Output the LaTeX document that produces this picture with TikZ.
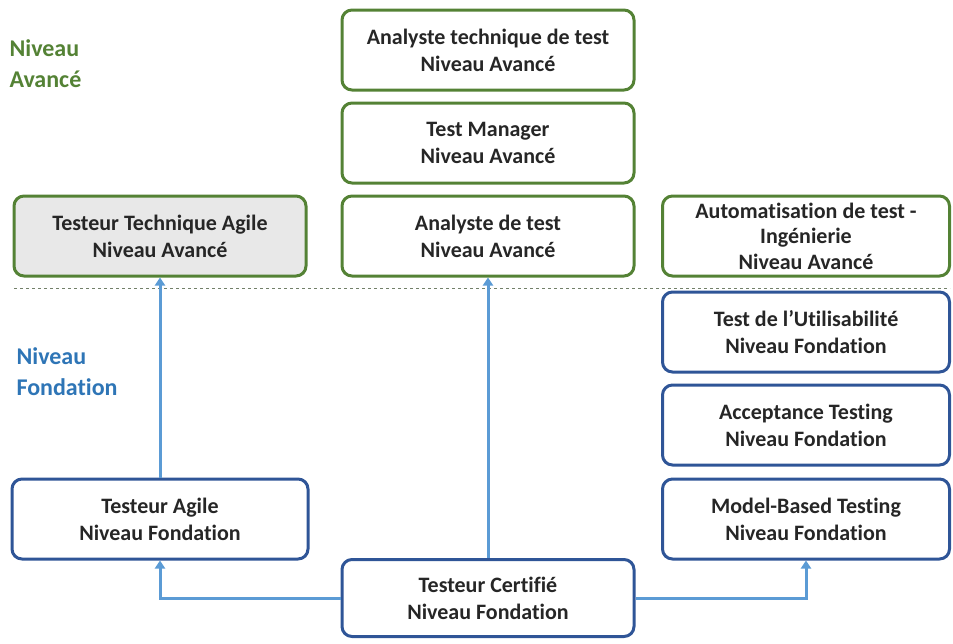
\documentclass[tikz,border=0pt]{standalone}
\usepackage{fontspec}
\setmainfont{Carlito}[Ligatures=NoCommon,Contextuals=NoAlternate]
\usetikzlibrary{arrows.meta}
\definecolor{avgreen}{RGB}{84,130,53}
\definecolor{fdblue}{RGB}{47,85,151}
\definecolor{arblue}{RGB}{91,155,213}
\definecolor{lblblue}{RGB}{46,117,182}
\definecolor{txtgray}{RGB}{38,38,38}
\begin{document}
\begin{tikzpicture}[x=1pt,y=-1pt,
  lvlbox/.style={rounded corners=10pt,line width=3pt,minimum width=292pt,
    minimum height=80pt,inner ysep=1pt,align=center,text=txtgray,
    font=\bfseries\fontsize{22}{27}\selectfont},
  avbox/.style={lvlbox,draw=avgreen},
  fdbox/.style={lvlbox,draw=fdblue},
  lvl/.style={anchor=west,align=left,font=\bfseries\fontsize{24}{31}\selectfont},
  arr/.style={draw=arblue,line width=3pt,-{Triangle[length=8pt,width=10pt]}}]
\useasboundingbox (0,0) rectangle (953,643);
%% niveau avance
\node[lvl,text=avgreen] (tav) at (6,64) {Niveau\\Avancé};
\node[avbox] (ata) at (488,50) {Analyste technique de test\\Niveau Avancé};
\node[avbox] (tm) at (488,143) {Test Manager\\Niveau Avancé};
\node[avbox] (at) at (488,236) {Analyste de test\\Niveau Avancé};
\node[avbox,fill=gray!18] (tta) at (160,236) {Testeur Technique Agile\\Niveau Avancé};
\node[avbox,minimum width=287pt,font=\bfseries\fontsize{22}{25.5}\selectfont] (aut) at (806,236) {Automatisation de test -\\Ingénierie\\Niveau Avancé};
%% separation
\draw[gray!70!avgreen,dashed,line width=0.6pt] (14,288) -- (950,288);
%% niveau fondation
\node[lvl,text=lblblue] (tfd) at (13,372) {Niveau\\Fondation};
\node[fdbox,minimum width=287pt] (ut) at (806,332) {Test de l’Utilisabilité\\Niveau Fondation};
\node[fdbox,minimum width=287pt] (acc) at (806,425) {Acceptance Testing\\Niveau Fondation};
\node[fdbox,minimum width=287pt] (mbt) at (806,519) {Model-Based Testing\\Niveau Fondation};
\node[fdbox,minimum width=296pt] (ag) at (160,519) {Testeur Agile\\Niveau Fondation};
\node[fdbox,minimum height=77pt] (cert) at (488,598) {Testeur Certifié\\Niveau Fondation};
%% fleches
\draw[arr] (cert.north) -- (at.south);
\draw[arr] (cert.west) -| (ag.south);
\draw[arr] (cert.east) -| (mbt.south);
\draw[arr] (ag.north) -- (tta.south);
\end{tikzpicture}
\end{document}
